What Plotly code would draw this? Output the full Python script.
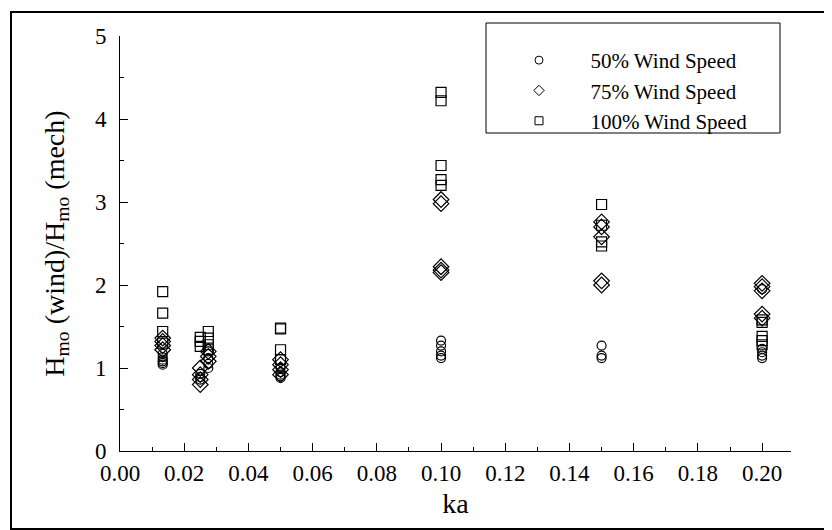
import plotly.graph_objects as go

# ---- data ----
ka_50 = [0.0133]*6 + [0.025]*3 + [0.0275]*4 + [0.050]*5 + [0.100]*5 + [0.150]*3 + [0.200]*5
h_50 = [1.04, 1.06, 1.08, 1.10, 1.13, 1.17,
        0.86, 0.89, 0.93,
        1.00, 1.05, 1.12, 1.20,
        0.88, 0.90, 0.92, 0.95, 1.00,
        1.12, 1.15, 1.20, 1.27, 1.33,
        1.12, 1.15, 1.27,
        1.12, 1.15, 1.19, 1.23, 1.95]

ka_75 = [0.0133]*4 + [0.025]*4 + [0.0275]*3 + [0.050]*4 + [0.100]*5 + [0.150]*5 + [0.200]*5
h_75 = [1.22, 1.27, 1.32, 1.36,
        0.80, 0.86, 0.92, 1.00,
        1.08, 1.14, 1.20,
        0.92, 0.98, 1.04, 1.10,
        2.15, 2.18, 2.22, 2.98, 3.03,
        2.00, 2.05, 2.58, 2.70, 2.76,
        1.60, 1.65, 1.93, 1.98, 2.02]

ka_100 = [0.0133]*4 + [0.025]*3 + [0.0275]*4 + [0.050]*4 + [0.100]*5 + [0.150]*4 + [0.200]*5
h_100 = [1.30, 1.44, 1.66, 1.92,
         1.26, 1.32, 1.37,
         1.22, 1.28, 1.36, 1.44,
         1.10, 1.22, 1.47, 1.48,
         3.20, 3.27, 3.44, 4.22, 4.32,
         2.47, 2.52, 2.72, 2.97,
         1.28, 1.33, 1.38, 1.55, 1.58]

series_names = ["50% Wind Speed", "75% Wind Speed", "100% Wind Speed"]
x_ticks = [0.00, 0.02, 0.04, 0.06, 0.08, 0.10, 0.12, 0.14, 0.16, 0.18, 0.20]
y_ticks = [0, 1, 2, 3, 4, 5]

FONT = "Liberation Serif"
fig = go.Figure()

styles = [("circle-open", 9), ("diamond-open", 12), ("square-open", 10)]
datasets = [(ka_50, h_50), (ka_75, h_75), (ka_100, h_100)]
for (xs, ys), (sym, sz), name in zip(datasets, styles, series_names):
    fig.add_trace(go.Scatter(x=xs, y=ys, mode="markers", showlegend=False,
                             marker=dict(symbol=sym, size=sz, color="black",
                                         line=dict(width=1.2, color="black"))))
    # legend entry with smaller symbol
    fig.add_trace(go.Scatter(x=[None], y=[None], mode="markers",
                             name="\u00a0" * 6 + name,
                             marker=dict(symbol=sym, size=8, color="black",
                                         line=dict(width=1, color="black"))))

L, R, T, B = 112, 49, 28, 87
W, H = 832, 530
pw, ph = W - L - R, H - T - B

def px_x(p):
    return (p - L) / pw

def px_y(p):
    return (H - B - p) / ph

fig.update_layout(
    width=W, height=H,
    margin=dict(l=L, r=R, t=T, b=B),
    paper_bgcolor="white", plot_bgcolor="white",
    font=dict(family=FONT, size=23, color="black"),
    showlegend=True,
    legend=dict(x=px_x(511), y=px_y(32), xanchor="left", yanchor="top",
                font=dict(family=FONT, size=21, color="black"),
                bgcolor="rgba(0,0,0,0)", borderwidth=0),
    xaxis=dict(range=[0, 0.209], tickvals=x_ticks, tickformat=".2f",
               ticks="inside", ticklen=8, tickwidth=1, tickcolor="black",
               showline=True, linecolor="black", linewidth=1, mirror=False,
               showgrid=False, zeroline=False,
               minor=dict(dtick=0.01, ticks="inside", ticklen=4, tickcolor="black", tickwidth=1),
               title=dict(text="ka", standoff=8),
               ticklabelstandoff=1),
    yaxis=dict(range=[0, 5], tickvals=y_ticks,
               ticks="inside", ticklen=8, tickwidth=1, tickcolor="black",
               showline=True, linecolor="black", linewidth=1, mirror=False,
               showgrid=False, zeroline=False,
               minor=dict(dtick=0.5, ticks="inside", ticklen=4, tickcolor="black", tickwidth=1),
               title=dict(text="H<sub>mo</sub> (wind)/H<sub>mo</sub> (mech)", standoff=22),
               ticklabelstandoff=8),
)

# outer frame around the figure
fig.add_shape(type="rect", xref="paper", yref="paper",
              x0=px_x(3), x1=px_x(829), y0=px_y(521), y1=px_y(4),
              line=dict(color="black", width=2), fillcolor="rgba(0,0,0,0)", layer="above")
# legend box
fig.add_shape(type="rect", xref="paper", yref="paper",
              x0=px_x(478), x1=px_x(772), y0=px_y(125), y1=px_y(15),
              line=dict(color="black", width=1), fillcolor="rgba(0,0,0,0)", layer="above")

fig.write_html("out.html")
